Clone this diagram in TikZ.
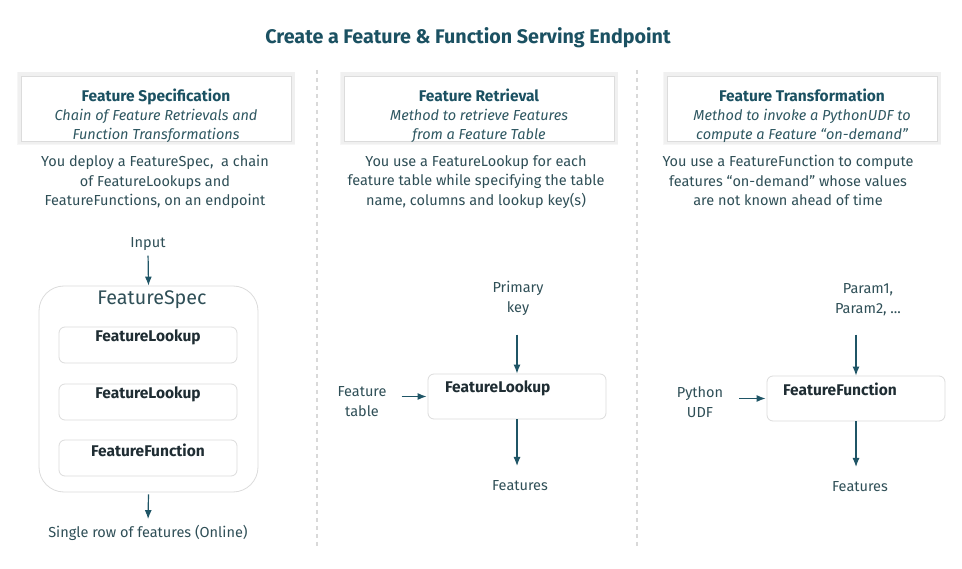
\documentclass[tikz,border=0pt]{standalone}
\usepackage{fontspec}
\setmainfont{Fira Sans}
\usetikzlibrary{arrows.meta}
\definecolor{ttl}{HTML}{1B5162}
\definecolor{txt}{HTML}{2F4F57}
\definecolor{ital}{HTML}{2F5862}
\definecolor{dark}{HTML}{1F2D33}
\definecolor{arrc}{HTML}{1F5566}
\definecolor{frame}{HTML}{DCDCDC}
\definecolor{divc}{HTML}{D9D9D9}
\begin{document}
\begin{tikzpicture}[x=1pt,y=-1pt,
  lbl/.style={font=\fontsize{14.5}{19.5}\selectfont, text=txt, align=center, inner sep=0pt},
  hdrtxt/.style={font=\fontsize{14.5}{19}\selectfont, text=ital, align=center, inner sep=0pt},
  hdrbox/.style={draw=frame, fill=white, minimum width=270pt, minimum height=65pt, inner sep=0pt,
     preaction={draw=black, draw opacity=0.025, line width=7pt},
     postaction={}},
  hdrglow/.style={draw=black, draw opacity=0.035, line width=3.5pt},
  bl/.style={font=\bfseries\fontsize{15.5}{16}\selectfont, text=dark, inner sep=0pt},
  inbox/.style={draw=frame, rounded corners=6pt, minimum width=178pt, minimum height=36pt, inner sep=0pt, line width=0.8pt},
  arr/.style={draw=arrc, line width=1.2pt, -{Latex[length=9pt,width=7pt]}},
  divline/.style={draw=divc, line width=1.2pt, dash pattern=on 4pt off 4pt}
]
\useasboundingbox[fill=white] (0,0) rectangle (962,569);

% title
\node[font=\bfseries\fontsize{19.7}{22}\selectfont, text=ttl, inner sep=0pt] (title) at (468,38) {Create a Feature \& Function Serving Endpoint};

% dividers
\coordinate (d1a) at (317,70); \coordinate (d1b) at (317,548);
\coordinate (d2a) at (637,70); \coordinate (d2b) at (637,548);
\draw[divline] (d1a) -- (d1b);
\draw[divline] (d2a) -- (d2b);

% header boxes (soft glow, then box)
\node[hdrbox] (h1) at (156,108.5) {};
\node[hdrbox] (h2) at (479,108.5) {};
\node[hdrbox] (h3) at (802,108.5) {};
\foreach \b in {h1,h2,h3}{
  \draw[hdrglow] ([xshift=-2pt,yshift=2pt]\b.north west) rectangle ([xshift=2pt,yshift=-2pt]\b.south east);
  \draw[draw=frame, fill=white] (\b.north west) rectangle (\b.south east);
}
\node[hdrtxt, anchor=north] (h1t) at (156,89) {{\bfseries\color{ttl}\fontsize{15.5}{19}\selectfont Feature Specification}\\ \itshape Chain of Feature Retrievals and\\ \itshape Function Transformations};
\node[hdrtxt, anchor=north] (h2t) at (479,89) {{\bfseries\color{ttl}\fontsize{15.5}{19}\selectfont Feature Retrieval}\\ \itshape Method to retrieve Features\\ \itshape from a Feature Table};
\node[hdrtxt, anchor=north] (h3t) at (802,89) {{\bfseries\color{ttl}\fontsize{15.5}{19}\selectfont Feature Transformation}\\ \itshape Method to invoke a PythonUDF to\\ \itshape compute a Feature “on-demand”};

% descriptions
\node[lbl, anchor=north] (desc1) at (155,155) {You deploy a FeatureSpec,\ \ a chain\\ of FeatureLookups and\\ FeatureFunctions, on an endpoint};
\node[lbl, anchor=north] (desc2) at (476,155) {You use a FeatureLookup for each\\ feature table while specifying the table\\ name, columns and lookup key(s)};
\node[lbl, anchor=north] (desc3) at (788,155) {You use a FeatureFunction to compute\\ features “on-demand” whose values\\ are not known ahead of time};

% column 1
\node[lbl] (input) at (148,244) {Input};
\node[draw=frame, rounded corners=25pt, minimum width=219pt, minimum height=206pt, inner sep=0pt, line width=0.8pt] (spec) at (148.5,389) {};
\node[lbl, font=\fontsize{19.7}{22}\selectfont, text=txt] (spect) at (152,300) {FeatureSpec};
\node[inbox] (fl1) at (148,345) {};
\node[inbox] (fl2) at (148,402) {};
\node[inbox] (ff1) at (148,458) {};
\node[bl] (fl1t) at (148,337) {FeatureLookup};
\node[bl] (fl2t) at (148,394) {FeatureLookup};
\node[bl] (ff1t) at (148,450) {FeatureFunction};
\node[lbl] (single) at (148,533) {Single row of features (Online)};
\draw[arr, shorten <=5pt] (input.south) -- (spec.north);
\draw[arr, shorten <=2pt, shorten >=6pt] (spec.south) -- (single.north);

% column 2
\node[lbl] (pk) at (518,298.5) {Primary\\ key};
\node[draw=frame, rounded corners=6pt, minimum width=178pt, minimum height=45pt, inner sep=0pt, line width=0.8pt] (lk) at (517,396.5) {};
\node[bl, anchor=west] (lkt) at (445,388) {FeatureLookup};
\node[lbl] (ftab) at (362,401.5) {Feature\\ table};
\node[lbl] (feat2) at (520,486) {Features};
\draw[arr, shorten <=19pt] (pk.south -| lk.north) -- (lk.north);
\draw[arr, shorten <=15pt, shorten >=1pt] (ftab.east |- lk.west) -- (lk.west);
\draw[arr, shorten >=20pt] (lk.south) -- (lk.south |- feat2.center);

% column 3
\node[lbl] (par) at (868,299.5) {Param1,\\ Param2, ...};
\node[draw=frame, rounded corners=6pt, minimum width=178pt, minimum height=45pt, inner sep=0pt, line width=0.8pt] (ffn) at (856,398.5) {};
\node[bl, anchor=west] (ffnt) at (783,389) {FeatureFunction};
\node[lbl] (udf) at (700,402) {Python\\ UDF};
\node[lbl] (feat3) at (860,487) {Features};
\draw[arr, shorten <=19pt] (par.south -| ffn.north) -- (ffn.north);
\draw[arr, shorten <=16pt, shorten >=1pt] (udf.east |- ffn.west) -- (ffn.west);
\draw[arr, shorten >=20pt] (ffn.south) -- (ffn.south |- feat3.center);
\end{tikzpicture}
\end{document}
